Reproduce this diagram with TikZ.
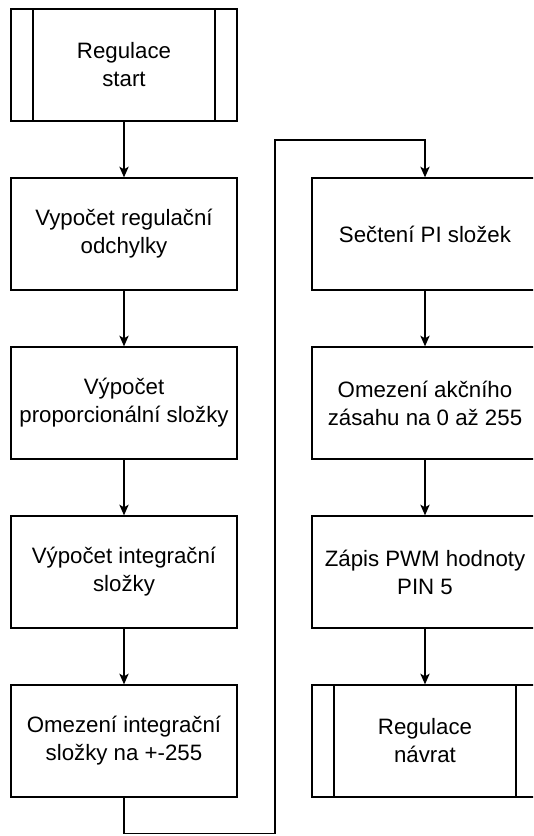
\documentclass[tikz,border=0pt]{standalone}
\usepackage{fontspec}
\setmainfont{Liberation Sans}
\usetikzlibrary{arrows.meta}

\begin{document}
\begin{tikzpicture}[x=0.75pt,y=-0.75pt,
    font=\fontsize{16.7}{21}\selectfont,
    block/.style={draw,line width=1pt,align=center,
      minimum width=169.5pt,minimum height=84pt,inner sep=0pt},
    subproc/.style={block,
      path picture={
        \draw[line width=1pt] ([xshift=16.5pt]path picture bounding box.north west)
          -- ([xshift=16.5pt]path picture bounding box.south west);
        \draw[line width=1pt] ([xshift=-16.5pt]path picture bounding box.north east)
          -- ([xshift=-16.5pt]path picture bounding box.south east);}},
    arr/.style={line width=1pt,-{Stealth[length=8pt,width=7pt,inset=2pt]}}]
  \def\xl{124} \def\xr{425}

  % page frame, right column runs off the edge
  \useasboundingbox (0,0) rectangle (533,836);
  \clip (0,0) rectangle (533,836);

  % left column
  \node[subproc] (start) at (\xl,65)  {Regulace\\start};
  \node[block]   (err)   at (\xl,234) {Vypočet regulační\\odchylky};
  \node[block]   (prop)  at (\xl,403) {Výpočet\\proporcionální složky};
  \node[block]   (integ) at (\xl,572) {Výpočet integrační\\složky};
  \node[block]   (limI)  at (\xl,741) {Omezení integrační\\složky na +-255};

  % right column
  \node[block]   (sum)   at (\xr,234) {Sečtení PI složek};
  \node[block]   (limU)  at (\xr,403) {Omezení akčního\\zásahu na 0 až 255};
  \node[block]   (pwm)   at (\xr,572) {Zápis PWM hodnoty\\PIN 5};
  \node[subproc] (ret)   at (\xr,741) {Regulace\\návrat};

  % flow
  \draw[arr] (start) -- (err);
  \draw[arr] (err) -- (prop);
  \draw[arr] (prop) -- (integ);
  \draw[arr] (integ) -- (limI);
  \coordinate (turn) at (275,140);
  \draw[arr] (limI.south) -- ++(0,36) -| (turn) -| (sum.north);
  \draw[arr] (sum) -- (limU);
  \draw[arr] (limU) -- (pwm);
  \draw[arr] (pwm) -- (ret);
\end{tikzpicture}
\end{document}
